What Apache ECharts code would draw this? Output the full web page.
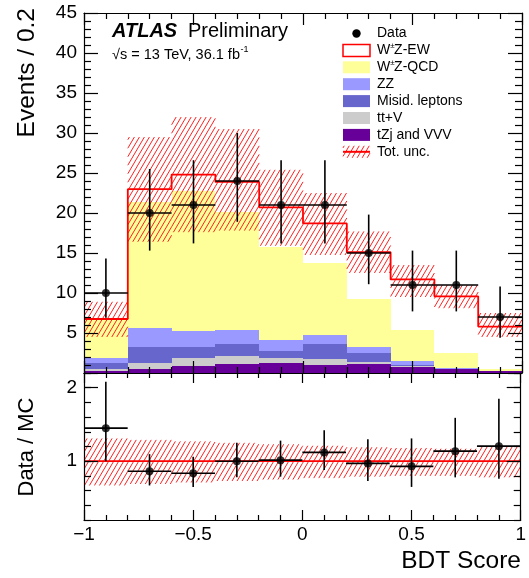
<!DOCTYPE html>
<html><head><meta charset="utf-8">
<script src="https://cdn.jsdelivr.net/npm/echarts@6/dist/echarts.min.js"></script>
<style>html,body{margin:0;padding:0;background:#fff}#c{width:529px;height:578px}</style>
</head><body><div id="c"></div>
<script>
// ---------------- data ----------------
const binEdges = [-1, -0.8, -0.6, -0.4, -0.2, 0, 0.2, 0.4, 0.6, 0.8, 1];
const binCenters = [-0.9, -0.7, -0.5, -0.3, -0.1, 0.1, 0.3, 0.5, 0.7, 0.9];
const dataCounts = [10, 20, 21, 24, 21, 21, 15, 11, 11, 7];
const dataErrLow = [6.9, 15.3, 16.2, 18.9, 16.2, 16.2, 11.1, 7.7, 7.7, 4.4];
const dataErrHigh = [14.3, 25.5, 26.6, 30.0, 26.6, 26.6, 19.8, 15.3, 15.3, 10.8];
const tzjVVV = [0.25, 0.54, 0.92, 1.08, 1.2, 1.0, 1.12, 0.7, 0.45, 0.25];
const ttV = [0.2, 0.66, 0.91, 1.02, 0.72, 0.7, 0.3, 0.18, 0.02, 0.0];
const misid = [0.75, 2.0, 1.37, 1.5, 0.88, 1.9, 1.12, 0.12, 0.05, 0.0];
const zz = [0.63, 2.38, 2.05, 1.78, 1.3, 1.15, 0.66, 0.54, 0.08, 0.05];
const wzQCD = [4.77, 15.8, 17.45, 14.7, 11.7, 8.95, 6.05, 3.86, 1.88, 0.25];
const wzEW = [0.15, 1.6, 2.1, 3.8, 4.9, 5.0, 5.85, 6.3, 7.1, 5.25];
const uncLow = [4.5, 16.4, 17.6, 17.8, 15.9, 14.75, 12.5, 9.5, 8.1, 4.5];
const uncHigh = [8.9, 29.5, 32.0, 30.5, 25.4, 22.5, 17.7, 13.5, 11.0, 7.5];
const ratioVal = [1.45, 0.863, 0.836, 1.0, 1.014, 1.12, 0.97, 0.93, 1.137, 1.205];
const ratioErrLow = [1.0, 0.67, 0.65, 0.78, 0.79, 0.88, 0.73, 0.65, 0.78, 0.76];
const ratioErrHigh = [2.08, 1.096, 1.06, 1.25, 1.28, 1.42, 1.3, 1.31, 1.59, 1.85];
const ratioUncLow = [0.67, 0.69, 0.71, 0.73, 0.75, 0.77, 0.79, 0.80, 0.80, 0.78];
const ratioUncHigh = [1.31, 1.29, 1.27, 1.25, 1.23, 1.21, 1.19, 1.18, 1.17, 1.20];
const xTicks = [-1, -0.5, 0, 0.5, 1];
const yTicksMain = [5, 10, 15, 20, 25, 30, 35, 40, 45];
const yTicksRatio = [1, 2];
const legendNames = ['Data', 'W±Z-EW', 'W±Z-QCD', 'ZZ', 'Misid. leptons', 'tt+V', 'tZj and VVV', 'Tot. unc.'];

// ---------------- helpers ----------------
const FONT = '"Liberation Sans", Arial, Helvetica, sans-serif';
const HM = 1.7, HSP = 5, HD = HSP * HM; // hatch slope and spacing
function hatchLines(x1, y1, x2, y2) {
  const out = [];
  const bmin = HM * x1 + y1, bmax = HM * x2 + y2;
  for (let k = Math.ceil(bmin / HD); k * HD <= bmax; k++) {
    const b = k * HD;
    const xa = Math.max(x1, (b - y2) / HM), xb = Math.min(x2, (b - y1) / HM);
    if (xb <= xa) continue;
    out.push({ type: 'line', shape: { x1: xa, y1: b - HM * xa, x2: xb, y2: b - HM * xb },
      style: { stroke: '#ff2020', lineWidth: 1 } });
  }
  return out;
}

function rectSeries(lows, highs, fill, xi, yi, z) {
  return {
    type: 'custom', xAxisIndex: xi, yAxisIndex: yi, z: z, silent: true, clip: true,
    data: binCenters.map((c, i) => [binEdges[i], binEdges[i + 1], lows[i], highs[i]]),
    renderItem: (params, api) => {
      const p1 = api.coord([api.value(0), api.value(3)]);
      const p2 = api.coord([api.value(1), api.value(2)]);
      const x1 = Math.round(p1[0]), x2 = Math.round(p2[0]);
      const y1 = Math.round(p1[1]), y2 = Math.round(p2[1]);
      return { type: 'rect', shape: { x: x1, y: y1, width: x2 - x1, height: y2 - y1 }, style: { fill: fill } };
    }
  };
}
function hatchSeries(lows, highs, xi, yi) {
  return {
    type: 'custom', xAxisIndex: xi, yAxisIndex: yi, z: 2, silent: true, clip: true,
    data: binCenters.map((c, i) => [binEdges[i], binEdges[i + 1], lows[i], highs[i]]),
    renderItem: (params, api) => {
      const p1 = api.coord([api.value(0), api.value(3)]);
      const p2 = api.coord([api.value(1), api.value(2)]);
      return { type: 'group', children: hatchLines(p1[0], p1[1], p2[0], p2[1]) };
    }
  };
}
function errSeries(vals, lo, hi, xi, yi) {
  return {
    type: 'custom', xAxisIndex: xi, yAxisIndex: yi, z: 5, silent: true, clip: true,
    data: binCenters.map((c, i) => [c, binEdges[i], binEdges[i + 1], vals[i], lo[i], hi[i]]),
    renderItem: (params, api) => {
      const a = api.coord([api.value(1), api.value(3)]);
      const b = api.coord([api.value(2), api.value(3)]);
      const t = api.coord([api.value(0), api.value(5)]);
      const d = api.coord([api.value(0), api.value(4)]);
      const st = { stroke: '#000', lineWidth: 1.6 };
      return { type: 'group', children: [
        { type: 'line', shape: { x1: a[0], y1: a[1], x2: b[0], y2: b[1] }, style: st },
        { type: 'line', shape: { x1: t[0], y1: t[1], x2: d[0], y2: d[1] }, style: st }
      ] };
    }
  };
}
function pointSeries(vals, xi, yi) {
  return { type: 'scatter', xAxisIndex: xi, yAxisIndex: yi, z: 6, silent: true,
    symbol: 'circle', symbolSize: 8, itemStyle: { color: '#000' },
    data: binCenters.map((c, i) => [c, vals[i]]) };
}
const axisLineStyle = { color: '#000', width: 1.2 };
const tickLine = { color: '#000', width: 1.2 };
function xAx(grid, pos, labels, majorLen, minorLen) {
  return {
    type: 'value', gridIndex: grid, position: pos, min: -1, max: 1, interval: 0.5, z: 10,
    axisLine: { show: true, onZero: false, lineStyle: axisLineStyle },
    axisTick: { show: true, inside: true, length: majorLen, lineStyle: tickLine },
    minorTick: { show: true, splitNumber: 5, length: minorLen, lineStyle: tickLine },
    axisLabel: { show: labels, showMinLabel: true, showMaxLabel: true, margin: 5, fontFamily: FONT, fontSize: 19, color: '#000',
      formatter: v => { const k = xTicks.find(t => Math.abs(t - v) < 1e-6); return k === undefined ? '' : String(k).replace('-', '\u2212'); } },
    splitLine: { show: false }, minorSplitLine: { show: false }
  };
}

// stack
const layers = [tzjVVV, ttV, misid, zz, wzQCD, wzEW];
const layerColors = ['#660099', '#cccccc', '#6666cc', '#9999ff', '#ffff99', '#ffffff'];
let base = binCenters.map(() => 0);
const series = [];
layers.forEach((arr, k) => {
  const lows = base.slice();
  const highs = base.map((b, i) => b + arr[i]);
  series.push(rectSeries(lows, highs, layerColors[k], 0, 0, 1));
  base = highs;
});
const total = base;
series.push(hatchSeries(uncLow, uncHigh, 0, 0));
series.push({
  type: 'line', xAxisIndex: 0, yAxisIndex: 0, z: 3, step: 'end', symbol: 'none', silent: true,
  lineStyle: { color: '#ff0000', width: 1.8 },
  data: binEdges.slice(0, 10).map((e, i) => [e, total[i]]).concat([[1, total[9]]])
});
series.push(errSeries(dataCounts, dataErrLow, dataErrHigh, 0, 0));
series.push(pointSeries(dataCounts, 0, 0));
// ratio
series.push(hatchSeries(ratioUncLow, ratioUncHigh, 2, 2));
series.push({
  type: 'line', xAxisIndex: 2, yAxisIndex: 2, z: 3, symbol: 'none', silent: true,
  lineStyle: { color: '#ff0000', width: 1.8 }, data: [[-1, 1], [1, 1]]
});
series.push(errSeries(ratioVal, ratioErrLow, ratioErrHigh, 2, 2));
series.push(pointSeries(ratioVal, 2, 2));

// text measuring
const mctx = document.createElement('canvas').getContext('2d');
function tw(text, font) { mctx.font = font; return mctx.measureText(text).width; }

// legend graphics
const LX = 343, LW = 27, LH = 12, TX = 377, LY0 = 33.5, LDY = 16.9;
const gr = [];
const F14 = '14px ' + FONT;
const legendStyles = [null, { fill: '#fff', stroke: '#ff0000', lineWidth: 1.5 }, { fill: '#ffff99' }, { fill: '#9999ff' },
  { fill: '#6666cc' }, { fill: '#cccccc' }, { fill: '#660099' }, null];
legendNames.forEach((name, i) => {
  const cy = LY0 + LDY * i;
  if (i === 0) {
    gr.push({ type: 'circle', shape: { cx: LX + LW / 2, cy: cy, r: 4.2 }, style: { fill: '#000' } });
  } else if (i === 7) {
    hatchLines(LX, cy - LH / 2, LX + LW, cy + LH / 2).forEach(l => gr.push(l));
    gr.push({ type: 'line', shape: { x1: LX, y1: cy, x2: LX + LW, y2: cy }, style: { stroke: '#ff0000', lineWidth: 2 } });
  } else {
    gr.push({ type: 'rect', shape: { x: LX, y: cy - LH / 2, width: LW, height: LH }, style: legendStyles[i] });
  }
  if (name.indexOf('±') >= 0) {
    const parts = name.split('±');
    const w0 = tw(parts[0], F14);
    gr.push({ type: 'text', x: TX, y: cy, style: { text: parts[0], font: F14, fill: '#000', verticalAlign: 'middle' } });
    gr.push({ type: 'text', x: TX + w0, y: cy - 4.5, style: { text: '±', font: '8px ' + FONT, fill: '#000', verticalAlign: 'middle' } });
    gr.push({ type: 'text', x: TX + w0 + tw('±', '8px ' + FONT) - 0.5, y: cy, style: { text: parts[1], font: F14, fill: '#000', verticalAlign: 'middle' } });
  } else {
    gr.push({ type: 'text', x: TX, y: cy, style: { text: name, font: F14, fill: '#000', verticalAlign: 'middle' } });
  }
});
// ATLAS label
const F20B = 'italic bold 20px ' + FONT;
gr.push({ type: 'text', x: 112, y: 31, style: { text: 'ATLAS', font: F20B, fill: '#000', verticalAlign: 'middle' } });
gr.push({ type: 'text', x: 188, y: 31, style: { text: 'Preliminary', font: '20px ' + FONT, fill: '#000', verticalAlign: 'middle' } });
const F15 = '14.5px ' + FONT;
const lumiText = '\u221As = 13 TeV, 36.1 fb';
gr.push({ type: 'text', x: 112, y: 55, style: { text: lumiText, font: F15, fill: '#000', verticalAlign: 'middle' } });
gr.push({ type: 'text', x: 112 + tw(lumiText, F15) + 0.5, y: 50, style: { text: '-1', font: '9px ' + FONT, fill: '#000', verticalAlign: 'middle' } });
// axis titles
gr.push({ type: 'text', x: 27, y: 8, rotation: Math.PI / 2, style: { text: 'Events / 0.2', font: '24.5px ' + FONT, fill: '#000', align: 'right', verticalAlign: 'middle' } });
gr.push({ type: 'text', x: 27, y: 447, rotation: Math.PI / 2, style: { text: 'Data / MC', font: '22px ' + FONT, fill: '#000', align: 'center', verticalAlign: 'middle' } });
gr.push({ type: 'text', x: 521, y: 561, style: { text: 'BDT Score', font: '24.5px ' + FONT, fill: '#000', align: 'right', verticalAlign: 'middle' } });

function ratioMajorAxis(pos) {
  return { type: 'value', gridIndex: 1, position: pos, min: 0.2, max: 2.2, z: 10,
    axisLine: { show: false, onZero: false },
    axisTick: { show: true, inside: true, length: 14, customValues: yTicksRatio, lineStyle: tickLine },
    axisLabel: { show: false, customValues: yTicksRatio }, splitLine: { show: false } };
}

const option = {
  animation: false,
  backgroundColor: '#fff',
  grid: [
    { left: 84, right: 7, top: 13, height: 360, containLabel: false },
    { left: 84, right: 7, top: 373, height: 147, containLabel: false }
  ],
  xAxis: [xAx(0, 'bottom', false, 12, 6), xAx(0, 'top', false, 12, 6), xAx(1, 'bottom', true, 10, 5), xAx(1, 'top', false, 10, 5)],
  yAxis: [
    { type: 'value', gridIndex: 0, position: 'left', min: 0, max: 45, interval: 5, z: 10,
      axisLine: { show: true, onZero: false, lineStyle: axisLineStyle },
      axisTick: { show: true, inside: true, length: 14, lineStyle: tickLine },
      minorTick: { show: true, splitNumber: 5, length: 7, lineStyle: tickLine },
      axisLabel: { margin: 7, fontFamily: FONT, fontSize: 19, color: '#000', showMaxLabel: true,
        formatter: v => { const k = yTicksMain.find(t => Math.abs(t - v) < 1e-6); return k === undefined ? '' : String(k); } },
      splitLine: { show: false } },
    { type: 'value', gridIndex: 0, position: 'right', min: 0, max: 45, interval: 5, z: 10,
      axisLine: { show: true, onZero: false, lineStyle: axisLineStyle },
      axisTick: { show: true, inside: true, length: 14, lineStyle: tickLine },
      minorTick: { show: true, splitNumber: 5, length: 7, lineStyle: tickLine },
      axisLabel: { show: false }, splitLine: { show: false } },
    { type: 'value', gridIndex: 1, position: 'left', min: 0.2, max: 2.2, interval: 0.2, z: 10,
      axisLine: { show: true, onZero: false, lineStyle: axisLineStyle },
      axisTick: { show: true, inside: true, length: 7, lineStyle: tickLine },
      axisLabel: { margin: 7, fontFamily: FONT, fontSize: 19, color: '#000', showMinLabel: true, showMaxLabel: true,
        formatter: v => { const k = yTicksRatio.find(t => Math.abs(t - v) < 1e-6); return k === undefined ? '' : String(k); } },
      splitLine: { show: false } },
    { type: 'value', gridIndex: 1, position: 'right', min: 0.2, max: 2.2, interval: 0.2, z: 10,
      axisLine: { show: true, onZero: false, lineStyle: axisLineStyle },
      axisTick: { show: true, inside: true, length: 7, lineStyle: tickLine },
      axisLabel: { show: false }, splitLine: { show: false } },
    ratioMajorAxis('left'),
    ratioMajorAxis('right')
  ],
  series: series,
  graphic: { elements: gr }
};
const chart = echarts.init(document.getElementById('c'));
chart.setOption(option);
</script>
</body></html>
